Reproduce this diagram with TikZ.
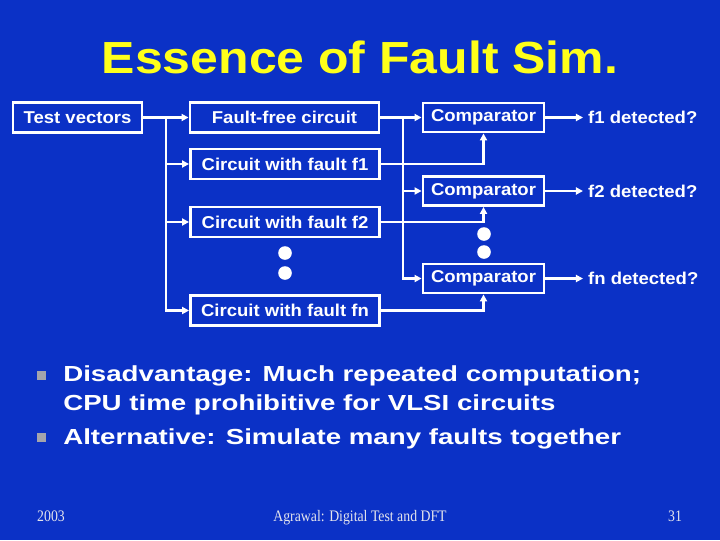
\documentclass[tikz,border=0pt]{standalone}
\usepackage{fontspec}
\usetikzlibrary{arrows.meta,positioning}
\setmainfont{Liberation Sans}
\newfontfamily\boxfont[FakeStretch=1.08]{Liberation Sans}
\newfontfamily\titlefont[FakeStretch=1.11]{Liberation Sans}
\newfontfamily\bulletfont[FakeStretch=1.27]{Liberation Sans}
\newfontfamily\footfont[FakeStretch=0.86]{Liberation Serif}
\definecolor{slideblue}{HTML}{0B31C6}
\definecolor{slideyellow}{HTML}{FFFF1A}
\definecolor{bulletgray}{HTML}{A4A4AC}
\definecolor{footgray}{HTML}{E4E4EC}

\tikzset{
  blkbox/.style={draw=white,line width=2pt,text=white,inner sep=0pt,
    font=\boxfont\bfseries\fontsize{12.2}{14}\selectfont},
  tvbox/.style={blkbox,minimum width=3.225cm,minimum height=0.75cm},
  cktbox/.style={blkbox,minimum width=4.725cm,minimum height=0.75cm},
  cmpbox/.style={blkbox,minimum width=3.025cm,minimum height=0.725cm},
  outlabel/.style={anchor=west,inner xsep=3.5pt,inner ysep=0pt,text=white,
    font=\boxfont\bfseries\fontsize{12.2}{14}\selectfont},
  wire/.style={white,line width=2pt,-{Triangle[length=5pt,width=5pt]}},
  plainwire/.style={white,line width=2pt},
  foottext/.style={anchor=base,inner sep=0pt,text=footgray,
    font=\footfont\fontsize{11.4}{13}\selectfont},
}

\begin{document}
\begin{tikzpicture}[x=0.025cm,y=-0.025cm]

  % ---- Slide background ----------------------------------------
  \fill[slideblue] (0,0) rectangle (720,540);
  \useasboundingbox (0,0) rectangle (720,540);

  % ---- Title ---------------------------------------------------
  \node[font=\titlefont\bfseries\fontsize{32}{36}\selectfont,text=slideyellow]
    (title) at (360,57) {Essence of Fault Sim.};

  % ---- Input and circuits --------------------------------------
  \node[tvbox]  (tv) at (77.5,117.5) {Test vectors};
  \node[cktbox] (ff) at (284.5,117.5) {Fault-free circuit};
  \node[cktbox] (f1) at (285,164) {Circuit with fault f1};
  \node[cktbox] (f2) at (285,222) {Circuit with fault f2};
  \node[cktbox] (fn) at (285,310.5) {Circuit with fault fn};
  \fill[white] (285,253) circle (0.17cm);
  \fill[white] (285,273) circle (0.17cm);

  % ---- Comparators ---------------------------------------------
  \node[cmpbox] (c1) at (483.5,117.5) {Comparator};
  \node[cmpbox] (c2) at (483.5,191) {Comparator};
  \node[cmpbox] (c3) at (483.5,278.5) {Comparator};
  \fill[white] (484,234) circle (0.17cm);
  \fill[white] (484,252) circle (0.17cm);

  \node[outlabel] (o1) at (583,117.5) {f1 detected?};
  \node[outlabel] (o2) at (583,191) {f2 detected?};
  \node[outlabel] (o3) at (583,278.5) {fn detected?};

  % ---- Fan-out of test vectors ---------------------------------
  \coordinate (tvfork) at (166,117.5);
  \draw[wire] (tv) -- (ff);
  \draw[plainwire] (tvfork) -- (tvfork |- fn.west);
  \draw[wire] (tvfork) |- (f1.west);
  \draw[wire] (tvfork) |- (f2.west);
  \draw[wire] (tvfork) |- (fn.west);

  % ---- Fault-free output to every comparator -------------------
  \coordinate (fffork) at (403,117.5);
  \draw[wire] (ff) -- (c1);
  \draw[plainwire] (fffork) -- (fffork |- c3.west);
  \draw[wire] (fffork) |- (c2.west);
  \draw[wire] (fffork) |- (c3.west);

  % ---- Faulty outputs into comparators -------------------------
  \draw[wire] (f1.east) -| (c1.south);
  \draw[wire] (f2.east) -| (c2.south);
  \draw[wire] (fn.east) -| (c3.south);

  % ---- Comparator results --------------------------------------
  \draw[wire] (c1) -- (o1);
  \draw[wire] (c2) -- (o2);
  \draw[wire] (c3) -- (o3);

  % ---- Bullets -------------------------------------------------
  \fill[bulletgray] (37,370.5) rectangle (46,379.5);
  \node[anchor=west,inner sep=0pt,align=left,text=white,
        font=\bulletfont\bfseries\fontsize{15.5}{20.8}\selectfont]
    (disadv) at (63,390.5) {Disadvantage: Much repeated computation;\\
                            CPU time prohibitive for VLSI circuits};
  \fill[bulletgray] (37,433) rectangle (46,442);
  \node[anchor=west,inner sep=0pt,text=white,
        font=\bulletfont\bfseries\fontsize{15.5}{20.8}\selectfont]
    (altern) at (63,439) {Alternative: Simulate many faults together};

  % ---- Footer --------------------------------------------------
  \node[foottext] (year)   at (51,521.5)  {2003};
  \node[foottext] (course) at (360,521.5) {Agrawal: Digital Test and DFT};
  \node[foottext] (page)   at (675,521.5) {31};

\end{tikzpicture}
\end{document}
